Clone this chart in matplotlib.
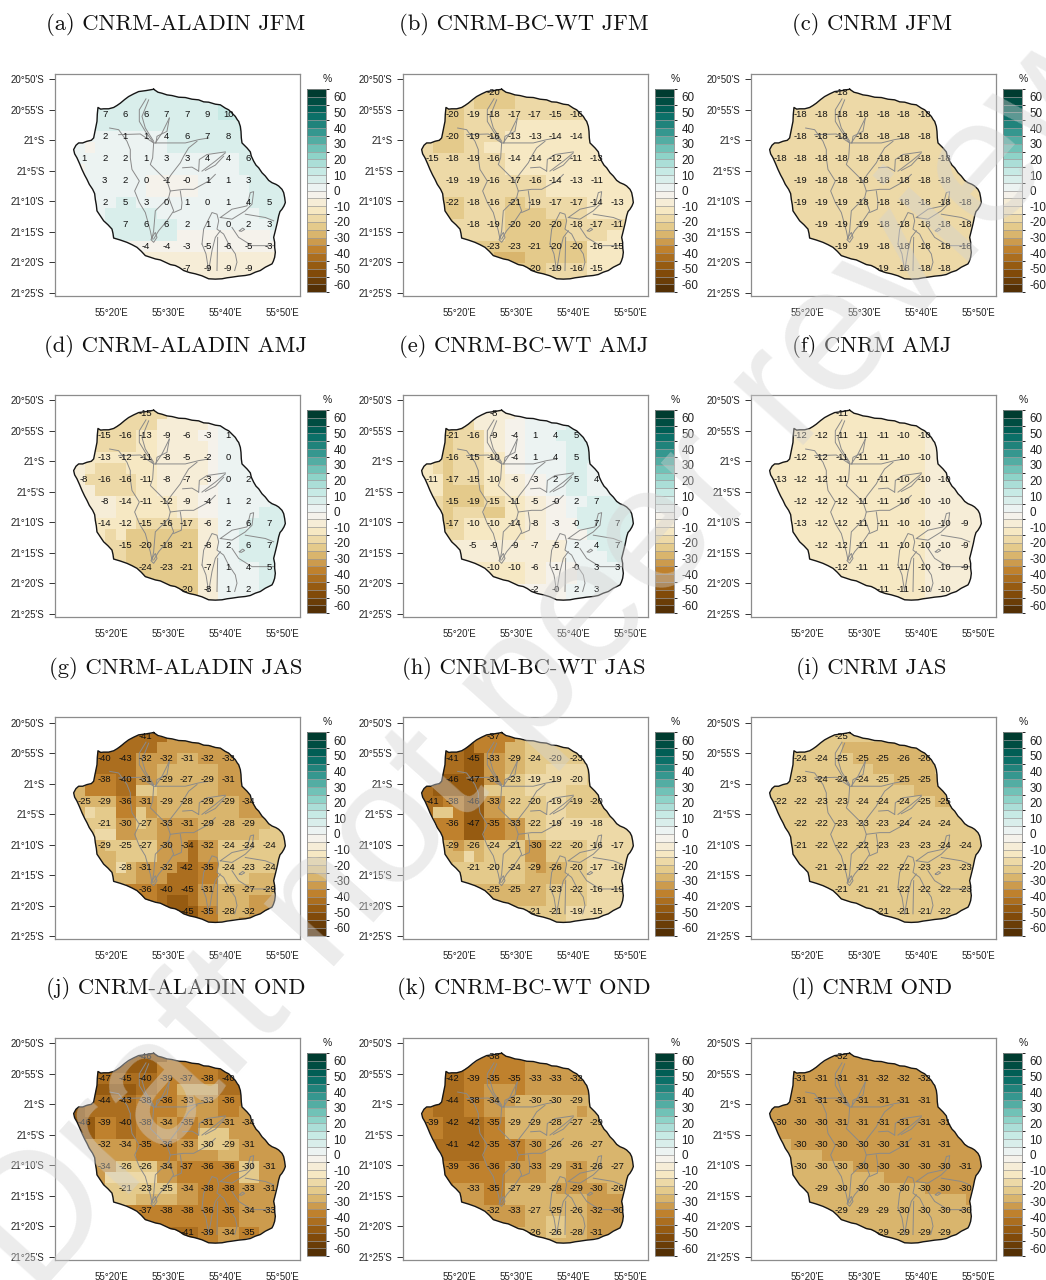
import numpy as np
import matplotlib
matplotlib.use("Agg")
import matplotlib.pyplot as plt
from matplotlib.colors import BoundaryNorm
from matplotlib.colorbar import ColorbarBase
from matplotlib.patches import Polygon

plt.rcParams['font.family'] = ['Liberation Sans', 'DejaVu Sans']

TITLES = ["(a) CNRM-ALADIN JFM", "(b) CNRM-BC-WT JFM", "(c) CNRM JFM",
          "(d) CNRM-ALADIN AMJ", "(e) CNRM-BC-WT AMJ", "(f) CNRM AMJ",
          "(g) CNRM-ALADIN JAS", "(h) CNRM-BC-WT JAS", "(i) CNRM JAS",
          "(j) CNRM-ALADIN OND", "(k) CNRM-BC-WT OND", "(l) CNRM OND"]

LON_TICKS = [20, 30, 40, 50]
LON_LABELS = ["55°20'E", "55°30'E", "55°40'E", "55°50'E"]
LAT_TICKS = [50, 55, 60, 65, 70, 75, 80, 85]
LAT_LABELS = ["20°50'S", "20°55'S", "21°S", "21°5'S", "21°10'S", "21°15'S", "21°20'S", "21°25'S"]
CBAR_TICKS = list(range(-60, 61, 10))
CBAR_BOUNDS = list(range(-65, 66, 5))

# first labelled column of each label row
ROW_START = [3, 1, 1, 0, 1, 1, 2, 3, 5]

LBL_A = [[None], [7, 6, 6, 7, 7, 9, 10], [2, 1, 1, 4, 6, 7, 8], [1, 2, 2, 1, 3, 3, 4, 4, 6],
         [3, 2, 0, -1, -0.0, 1, 1, 3], [2, 5, 3, 0, 1, 0, 1, 4, 5], [7, 6, 6, 2, 1, 0, 2, 3],
         [-4, -4, -3, -5, -6, -5, -3], [-7, -9, -9, -9]]
LBL_B = [[-20], [-20, -19, -18, -17, -17, -15, -16], [-20, -19, -16, -13, -13, -14, -14],
         [-15, -18, -19, -16, -14, -14, -12, -11, -13], [-19, -19, -16, -17, -16, -14, -13, -11],
         [-22, -18, -16, -21, -19, -17, -17, -14, -13], [-18, -19, -20, -20, -20, -18, -17, -11],
         [-23, -23, -21, -20, -20, -16, -15], [-20, -19, -16, -15]]
LBL_C = [[-18], [-18] * 7, [-18] * 7, [-18] * 9, [-19, -18, -18, -18, -18, -18, -18, -18],
         [-19, -19, -19, -18, -18, -18, -18, -18, -18], [-19, -19, -19, -18, -18, -18, -18, -18],
         [-19, -19, -18, -18, -18, -18, -18], [-19, -18, -18, -18]]
LBL_D = [[-15], [-15, -16, -13, -9, -6, -3, 1], [-13, -12, -11, -8, -5, -2, 0],
         [-8, -16, -16, -11, -8, -7, -3, 0, 2], [-8, -14, -11, -12, -9, -4, 1, 2],
         [-14, -12, -15, -16, -17, -6, 2, 6, 7], [-15, -20, -18, -21, -8, 2, 6, 7],
         [-24, -23, -21, -7, 1, 4, 5], [-20, -8, 1, 2]]
LBL_E = [[-8], [-21, -16, -9, -4, 1, 4, 5], [-16, -15, -10, -4, 1, 4, 5],
         [-11, -17, -15, -10, -6, -3, 2, 5, 4], [-15, -19, -15, -11, -5, -0.0, 2, 7],
         [-17, -10, -10, -14, -8, -3, -0.0, 7, 7], [-5, -9, -9, -7, -5, 2, 4, 7],
         [-10, -10, -6, -1, -0.0, 3, 3], [-2, -0.0, 2, 3]]
LBL_F = [[-11], [-12, -12, -11, -11, -11, -10, -10], [-12, -12, -11, -11, -11, -10, -10],
         [-13, -12, -12, -11, -11, -11, -10, -10, -10], [-12, -12, -12, -11, -11, -10, -10, -10],
         [-13, -12, -12, -11, -11, -10, -10, -10, -9], [-12, -12, -11, -11, -10, -10, -10, -9],
         [-12, -11, -11, -11, -10, -10, -9], [-11, -11, -10, -10]]
LBL_G = [[-41], [-40, -43, -32, -32, -31, -32, -33], [-38, -40, -31, -29, -27, -29, -31],
         [-25, -29, -36, -31, -29, -28, -29, -29, -34], [-21, -30, -27, -33, -31, -29, -28, -29],
         [-29, -25, -27, -30, -34, -32, -24, -24, -24], [-28, -31, -32, -42, -35, -24, -23, -24],
         [-36, -40, -45, -31, -25, -27, -29], [-45, -35, -28, -32]]
LBL_H = [[-37], [-41, -45, -33, -29, -24, -20, -23], [-46, -47, -31, -23, -19, -19, -20],
         [-41, -38, -46, -33, -22, -20, -19, -19, -20], [-36, -47, -35, -33, -22, -19, -19, -18],
         [-29, -26, -24, -21, -30, -22, -20, -16, -17], [-21, -20, -24, -29, -26, -20, -17, -16],
         [-25, -25, -27, -23, -22, -16, -19], [-21, -21, -19, -15]]
LBL_I = [[-25], [-24, -24, -25, -25, -25, -26, -26], [-23, -24, -24, -24, -25, -25, -25],
         [-22, -22, -23, -23, -24, -24, -24, -25, -25], [-22, -22, -23, -23, -23, -24, -24, -24],
         [-21, -22, -22, -22, -23, -23, -23, -24, -24], [-21, -21, -22, -22, -22, -23, -23, -23],
         [-21, -21, -21, -22, -22, -22, -23], [-21, -21, -21, -22]]
LBL_J = [[-46], [-47, -45, -40, -39, -37, -38, -40], [-44, -43, -38, -36, -33, -33, -36],
         [-46, -39, -40, -38, -34, -35, -31, -31, -34], [-32, -34, -35, -36, -33, -30, -29, -31],
         [-34, -26, -26, -34, -37, -36, -36, -30, -31], [-21, -23, -25, -34, -38, -38, -33, -31],
         [-37, -38, -38, -36, -35, -34, -33], [-41, -39, -34, -35]]
LBL_K = [[-38], [-42, -39, -35, -35, -33, -33, -32], [-44, -38, -34, -32, -30, -30, -29],
         [-39, -42, -42, -35, -29, -29, -28, -27, -29], [-41, -42, -35, -37, -30, -26, -26, -27],
         [-39, -36, -36, -30, -33, -29, -31, -26, -27], [-33, -35, -27, -29, -28, -29, -30, -26],
         [-32, -33, -27, -25, -26, -32, -30], [-26, -26, -28, -31]]
LBL_L = [[-32], [-31, -31, -31, -31, -32, -32, -32], [-31] * 7,
         [-30, -30, -30, -31, -31, -31, -31, -31, -31], [-30, -30, -30, -30, -30, -31, -31, -31],
         [-30, -30, -30, -30, -30, -30, -30, -30, -31], [-29, -30, -30, -30, -30, -30, -30, -30],
         [-29, -29, -29, -30, -30, -30, -30], [-29, -29, -29, -29]]

# finer fill values read from the shading: (row0, row1, col0, col1, value)
FILL_A = [(5, 5, 1, 1, -2), (7, 7, 0, 0, -2), (3, 5, 9, 15, 7), (7, 10, 17, 20, 6), (10, 12, 19, 20, 6),
          (11, 12, 3, 7, 6), (8, 9, 7, 8, -1), (9, 9, 9, 11, -1), (13, 13, 10, 18, -2), (14, 14, 5, 19, -3), (15, 17, 5, 19, -7)]
FILL_B = [(1, 1, 7, 8, -21), (5, 5, 1, 1, -21), (5, 5, 6, 7, -14), (5, 6, 8, 11, -14), (3, 4, 9, 16, -14),
          (11, 15, 9, 11, -21), (15, 15, 7, 9, -26), (12, 12, 16, 19, -18), (13, 13, 14, 17, -18), (14, 17, 16, 20, -13)]
FILL_C = []
FILL_D = [(5, 5, 2, 4, -16), (6, 6, 1, 4, -16), (11, 14, 5, 11, -21), (15, 15, 7, 10, -21), (11, 11, 3, 3, -16),
          (10, 13, 17, 20, 6), (11, 13, 16, 16, 6), (8, 13, 14, 15, 2), (1, 5, 14, 16, 1), (7, 10, 14, 16, 1),
          (1, 1, 10, 12, -5), (3, 6, 10, 12, -5)]
FILL_E = [(2, 10, 2, 2, -21), (2, 5, 3, 3, -17), (9, 9, 6, 7, -22), (7, 8, 3, 5, -21), (2, 3, 13, 15, 6),
          (9, 10, 15, 20, 6), (11, 11, 17, 20, 6), (12, 12, 17, 20, 6), (3, 5, 11, 13, 1), (14, 17, 15, 20, 2)]
FILL_F = [(0, 17, 15, 20, -8)]
FILL_G = [(7, 7, 1, 1, -18), (7, 8, 2, 3, -22), (9, 9, 2, 3, -18), (10, 10, 3, 3, -22), (10, 10, 4, 7, -23),
          (11, 11, 4, 5, -21), (11, 11, 6, 7, -24), (12, 12, 4, 4, -18), (5, 5, 4, 4, -42), (3, 3, 4, 4, -42),
          (10, 12, 11, 11, -42), (13, 15, 9, 11, -42), (15, 16, 9, 10, -46), (16, 17, 10, 11, -46),
          (3, 4, 8, 13, -27), (2, 2, 10, 11, -27), (5, 5, 6, 7, -23), (7, 8, 6, 6, -23), (10, 11, 14, 19, -23),
          (12, 13, 14, 16, -23), (13, 14, 17, 19, -27), (15, 16, 17, 19, -32), (15, 16, 14, 16, -27)]
FILL_H = [(3, 9, 4, 5, -47), (7, 7, 1, 2, -22), (0, 1, 6, 7, -37), (5, 5, 6, 7, -22), (11, 12, 11, 11, -32),
          (11, 11, 4, 4, -17), (10, 10, 3, 3, -33), (5, 7, 14, 16, -20), (3, 4, 12, 15, -18)]
FILL_I = [(0, 17, 0, 20, -24), (1, 1, 7, 14, -26), (2, 2, 8, 15, -26), (3, 3, 10, 15, -26), (4, 4, 12, 16, -26),
          (5, 5, 14, 16, -26), (6, 6, 16, 17, -26)]
FILL_J = [(11, 11, 3, 7, -17), (10, 10, 4, 7, -22), (12, 12, 4, 9, -22), (13, 13, 6, 9, -25), (7, 8, 12, 14, -22),
          (10, 11, 16, 17, -24), (3, 3, 10, 13, -29), (3, 3, 2, 5, -46), (2, 2, 2, 5, -43), (8, 9, 2, 3, -32)]
FILL_K = [(15, 16, 12, 13, -24), (4, 5, 15, 15, -31), (8, 9, 4, 4, -44), (5, 6, 8, 13, -29), (4, 4, 8, 16, -29),
          (12, 12, 13, 15, -31), (14, 16, 17, 18, -31), (13, 14, 18, 19, -31), (3, 4, 6, 8, -32)]
FILL_L = [(0, 17, 0, 20, -31), (8, 8, 0, 1, -29), (9, 9, 0, 4, -29), (10, 10, 0, 7, -29), (11, 11, 0, 10, -29),
          (12, 12, 0, 14, -29), (13, 13, 0, 18, -29), (14, 17, 0, 20, -29)]

LABELS = [LBL_A, LBL_B, LBL_C, LBL_D, LBL_E, LBL_F, LBL_G, LBL_H, LBL_I, LBL_J, LBL_K, LBL_L]
FILLS = [FILL_A, FILL_B, FILL_C, FILL_D, FILL_E, FILL_F, FILL_G, FILL_H, FILL_I, FILL_J, FILL_K, FILL_L]

COAST = [(305, 43), (318, 52), (330, 55), (345, 60), (360, 62), (380, 67), (400, 68), (420, 73), (440, 75), (455, 81),
         (470, 82), (490, 88), (505, 90), (520, 100), (530, 105), (540, 115), (550, 125), (556, 135), (560, 140),
         (565, 155), (567, 170), (568, 190), (570, 205), (578, 213), (585, 220), (595, 232), (598, 245), (605, 260),
         (612, 272), (620, 280), (630, 295), (640, 305), (650, 318), (660, 325), (672, 330), (680, 335), (690, 345),
         (695, 355), (698, 370), (700, 385), (696, 395), (690, 405), (684, 412), (680, 425), (676, 445), (670, 470),
         (665, 490), (668, 505), (668, 520), (670, 535), (668, 550), (664, 562), (660, 570), (650, 575), (640, 580),
         (625, 590), (610, 595), (595, 602), (580, 605), (560, 607), (540, 610), (525, 612), (510, 615), (490, 616),
         (470, 615), (450, 606), (430, 600), (412, 596), (395, 590), (382, 581), (370, 575), (355, 572), (340, 565),
         (325, 558), (310, 555), (295, 550), (280, 545), (268, 532), (255, 520), (240, 512), (225, 505), (205, 498),
         (185, 492), (183, 478), (180, 465), (168, 452), (155, 440), (145, 425), (135, 410), (133, 392), (130, 375),
         (128, 358), (122, 345), (112, 330), (105, 315), (98, 302), (90, 285), (83, 268), (75, 250), (68, 238),
         (65, 225), (72, 212), (80, 205), (92, 205), (105, 200), (118, 197), (125, 190), (130, 165), (135, 140),
         (136, 118), (138, 98), (146, 103), (155, 102), (170, 102), (185, 98), (195, 92), (205, 85), (218, 74),
         (230, 65), (245, 57), (260, 50), (282, 47), (305, 43)]
RIVERS = [
    [(282, 72), (262, 105), (262, 140), (280, 170), (305, 205)],
    [(290, 75), (270, 125), (280, 160), (305, 200)],
    [(173, 160), (200, 165), (225, 200), (235, 225), (235, 250), (240, 285), (262, 320), (248, 350), (262, 385),
     (280, 415), (295, 470), (300, 495)],
    [(305, 205), (302, 250), (295, 270), (320, 295), (345, 320), (355, 350), (350, 370), (365, 410), (345, 440),
     (320, 470), (305, 495)],
    [(355, 350), (395, 345), (425, 345), (470, 320), (490, 300)],
    [(352, 130), (330, 175), (310, 205)],
    [(352, 130), (345, 170), (315, 185), (312, 205)],
    [(200, 180), (265, 178), (305, 205), (360, 205), (400, 205), (440, 195), (470, 190)],
    [(435, 200), (410, 220), (395, 245), (385, 265), (358, 300), (345, 320)],
    [(350, 370), (310, 410), (305, 470), (300, 495)],
    [(385, 350), (390, 385), (388, 405), (365, 415)],
    [(440, 290), (442, 255), (465, 240), (520, 232)],
    [(450, 290), (490, 260), (520, 235)],
    [(460, 288), (490, 272), (515, 245)],
    [(392, 280), (420, 278), (440, 290)],
    [(450, 510), (455, 465), (480, 415), (495, 420), (500, 440), (495, 465), (515, 480), (530, 510), (550, 540),
     (555, 565), (548, 590)],
    [(505, 470), (490, 490), (480, 530), (470, 590)],
    [(450, 510), (462, 540), (470, 590)],
    [(497, 490), (495, 590)],
    [(505, 430), (540, 405), (585, 395), (595, 355), (605, 352), (600, 390), (580, 410), (540, 435), (505, 430)],
    [(580, 420), (640, 430), (665, 440)],
    [(540, 460), (560, 490), (600, 515), (665, 515)],
    [(562, 470), (572, 462), (578, 466), (568, 472), (562, 470)],
    [(300, 490), (310, 475), (315, 490), (305, 505), (297, 497), (300, 490)],
]

W, H = 1046, 1280
PANEL_X = [55.3, 403.3, 751.3]
PANEL_Y = [74, 395, 717.3, 1038]
AX_W, AX_H = 244.7, 222
CB_X, CB_W, CB_Y, CB_H = 251.4, 19.3, 15, 203.3


def to_lonlat(pts):
    a = np.array(pts, float)
    return 55 + (20 + (a[:, 0] - 177) / 17.13) / 60, -(20 + (50 + (a[:, 1] - 13) / 18.42) / 60)


def lon(m):
    return 55 + np.asarray(m, float) / 60


def lat(m):
    return -(20 + np.asarray(m, float) / 60)


def build_fill(rows, patches):
    known = []
    for r, row in enumerate(rows):
        for i, v in enumerate(row):
            if v is not None:
                known.append((2 * r, 2 * (ROW_START[r] + i), v))
    grid = np.zeros((18, 21))
    for r in range(18):
        for c in range(21):
            d = [(rr - r) ** 2 + (cc - c) ** 2 - 0.01 * (rr <= r) - 0.01 * (cc <= c) for rr, cc, _ in known]
            grid[r, c] = known[int(np.argmin(d))][2]
    for r0, r1, c0, c1, v in patches:
        grid[r0:r1 + 1, c0:c1 + 1] = v
    # a value on a class limit belongs to the class further from zero, -0 to the first negative one
    return grid + np.copysign(0.01, grid)


fig = plt.figure(figsize=(W / 100, H / 100), dpi=100)
cmap = plt.get_cmap('BrBG', 26)
norm = BoundaryNorm(CBAR_BOUNDS, 26)
LON_EDGES = lon(13.6 + 1.8 * np.arange(22))
LAT_EDGES = lat(51.3 + 1.8 * np.arange(19))
cx, cy = to_lonlat(COAST)
GRAY = '#8c8c8c'

for k, title in enumerate(TITLES):
    col, row = k % 3, k // 3
    x0, y0 = PANEL_X[col], PANEL_Y[row]
    ax = fig.add_axes([x0 / W, 1 - (y0 + AX_H) / H, AX_W / W, AX_H / H])
    ax.set_xlim(lon(10.25), lon(53.1))
    ax.set_ylim(lat(85.5), lat(49.13))
    mesh = ax.pcolormesh(LON_EDGES, LAT_EDGES, build_fill(LABELS[k], FILLS[k]), cmap=cmap, norm=norm, rasterized=True)
    clip = Polygon(np.c_[cx, cy], closed=True, transform=ax.transData, fc='none', ec='none')
    ax.add_patch(clip)
    mesh.set_clip_path(clip)
    for riv in RIVERS:
        rx, ry = to_lonlat(riv)
        ax.plot(rx, ry, color='#8a8a8a', lw=0.7, zorder=3)
    ax.plot(cx, cy, color='#151515', lw=1.0, zorder=4)
    for r, vals in enumerate(LABELS[k]):
        for i, v in enumerate(vals):
            if v is None:
                continue
            c = ROW_START[r] + i
            ax.text(lon(15.3 + 3.6 * c), lat(52.2 + 3.6 * r), f"{v:.0f}", ha='center', va='center',
                    fontsize=6.8, color='#111111', zorder=5)
    ax.set_xticks(lon(LON_TICKS))
    ax.set_xticklabels(LON_LABELS, fontsize=7.0, color='#222222')
    ax.set_yticks(lat(LAT_TICKS))
    ax.set_yticklabels(LAT_LABELS, fontsize=7.0, color='#222222')
    ax.tick_params(axis='x', length=0, pad=8.5)
    ax.tick_params(axis='y', length=4.3, width=0.7, color='#333333', pad=3.5)
    for s in ax.spines.values():
        s.set_color(GRAY)
        s.set_linewidth(0.9)
    fig.text((x0 + AX_W / 2 - 2) / W, 1 - (y0 - 49) / H, title, ha='center', va='center',
             fontsize=16.3, family=['cmr10', 'DejaVu Serif'], color='#111111')

    cax = fig.add_axes([(x0 + CB_X) / W, 1 - (y0 + CB_Y + CB_H) / H, CB_W / W, CB_H / H])
    cb = ColorbarBase(cax, cmap=cmap, norm=norm, boundaries=CBAR_BOUNDS, ticks=CBAR_TICKS,
                      spacing='uniform', drawedges=True)
    cb.dividers.set_color('#9a9a9a')
    cb.dividers.set_linewidth(0.5)
    cb.outline.set_edgecolor(GRAY)
    cb.outline.set_linewidth(0.6)
    cb.ax.tick_params(length=0, labelsize=8.4, pad=5.5, labelcolor='#222222')
    cb.ax.set_yticklabels([str(t) for t in CBAR_TICKS])
    fig.text((x0 + CB_X + 21) / W, 1 - (y0 + 5) / H, '%', ha='center', va='center', fontsize=7.5, color='#222222')

# watermark: the stem of the "i" of "review" sits at picture position (961, 270)
WM_TEXT = "Draft not peer reviewed"
WM_SIZE = 128
WM_ANGLE = 48.0
rend = fig.canvas.get_renderer()
probe = fig.text(0, 0, "Draft not peer rev", fontsize=WM_SIZE)
wm_w = probe.get_window_extent(rend).width
probe.remove()
a = np.deg2rad(WM_ANGLE)
sx, sy = 961 - wm_w * np.cos(a), 270 + wm_w * np.sin(a)
fig.text(sx / W, 1 - sy / H, WM_TEXT, rotation=WM_ANGLE, rotation_mode='anchor', ha='left', va='baseline',
         fontsize=WM_SIZE, color='#d2d2d2', alpha=0.42, zorder=100)

fig.savefig('out.png', dpi=100)
